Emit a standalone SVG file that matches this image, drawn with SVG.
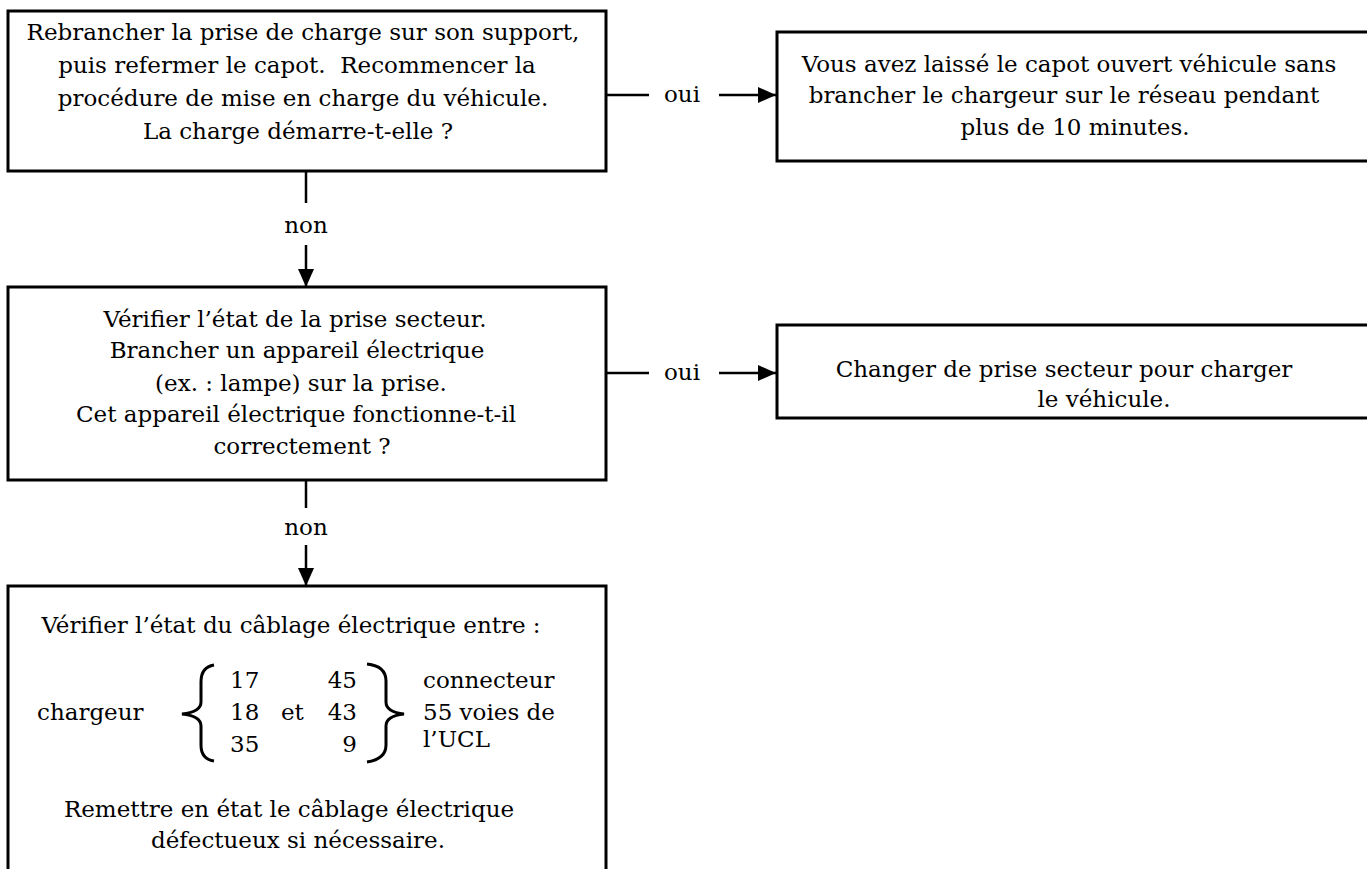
<svg xmlns="http://www.w3.org/2000/svg" width="1367" height="869" viewBox="0 0 1367 869">
<style>
.box{fill:#fff;stroke:#000;stroke-width:3}
.t{font-family:"DejaVu Serif","Liberation Serif",serif;font-size:23px;fill:#000}
.c{text-anchor:middle}
.ln{stroke:#000;stroke-width:2.5;fill:none}
.br{stroke:#000;stroke-width:3;fill:none}
</style>
<defs>
<marker id="ah" viewBox="0 0 18 16" refX="18" refY="8" markerWidth="18" markerHeight="16" markerUnits="userSpaceOnUse" orient="auto">
<path d="M0,0 L18,8 L0,16 Z" fill="#000"/>
</marker>
</defs>
<rect width="1367" height="869" fill="#fff"/>
<g id="connectors">
<line class="ln" x1="606" y1="95" x2="649" y2="95"/>
<text class="t c" x="682" y="102">oui</text>
<line class="ln" x1="719" y1="95" x2="776" y2="95" marker-end="url(#ah)"/>
<line class="ln" x1="306" y1="171" x2="306" y2="203"/>
<text class="t c" x="306" y="233">non</text>
<line class="ln" x1="306" y1="245" x2="306" y2="287" marker-end="url(#ah)"/>
<line class="ln" x1="606" y1="373" x2="649" y2="373"/>
<text class="t c" x="682" y="380">oui</text>
<line class="ln" x1="719" y1="373" x2="776" y2="373" marker-end="url(#ah)"/>
<line class="ln" x1="306" y1="480" x2="306" y2="508"/>
<text class="t c" x="306" y="535">non</text>
<line class="ln" x1="306" y1="545" x2="306" y2="586" marker-end="url(#ah)"/>
</g>
<g id="node1">
<rect class="box" x="8" y="11" width="598" height="160"/>
<text class="t c" x="303" y="40">Rebrancher la prise de charge sur son support,</text>
<text class="t c" x="297" y="73" xml:space="preserve">puis refermer le capot.  Recommencer la</text>
<text class="t c" x="303" y="106">procédure de mise en charge du véhicule.</text>
<text class="t c" x="298" y="139">La charge démarre-t-elle ?</text>
</g>
<g id="node2">
<rect class="box" x="777" y="32" width="600" height="129"/>
<text class="t c" x="1069" y="72">Vous avez laissé le capot ouvert véhicule sans</text>
<text class="t c" x="1064" y="103">brancher le chargeur sur le réseau pendant</text>
<text class="t c" x="1075" y="135">plus de 10 minutes.</text>
</g>
<g id="node3">
<rect class="box" x="8" y="287" width="598" height="193"/>
<text class="t c" x="295" y="327">Vérifier l’état de la prise secteur.</text>
<text class="t c" x="297" y="358">Brancher un appareil électrique</text>
<text class="t c" x="301" y="391">(ex. : lampe) sur la prise.</text>
<text class="t c" x="296" y="422">Cet appareil électrique fonctionne-t-il</text>
<text class="t c" x="302" y="454">correctement ?</text>
</g>
<g id="node4">
<rect class="box" x="777" y="325" width="600" height="93"/>
<text class="t c" x="1064" y="377">Changer de prise secteur pour charger</text>
<text class="t c" x="1104" y="407">le véhicule.</text>
</g>
<g id="node5">
<rect class="box" x="8" y="586" width="598" height="300"/>
<text class="t c" x="291" y="633">Vérifier l’état du câblage électrique entre :</text>
<text class="t" x="37" y="720">chargeur</text>
<path class="br" d="M214,665 Q201,667 201,682 L201,702 Q201,712 182,714 Q201,716 201,726 L201,745 Q201,759 214,761"/>
<text class="t" x="230" y="688">17</text>
<text class="t" x="230" y="720">18</text>
<text class="t" x="230" y="752">35</text>
<text class="t" x="281" y="720">et</text>
<text class="t" x="357" y="688" text-anchor="end">45</text>
<text class="t" x="357" y="720" text-anchor="end">43</text>
<text class="t" x="357" y="752" text-anchor="end">9</text>
<path class="br" d="M367,664 Q386,666 386,681 L386,702 Q386,712 404,714 Q386,716 386,726 L386,745 Q386,759 367,762"/>
<text class="t" x="423" y="688">connecteur</text>
<text class="t" x="423" y="720">55 voies de</text>
<text class="t" x="423" y="747">l’UCL</text>
<text class="t c" x="289" y="817">Remettre en état le câblage électrique</text>
<text class="t c" x="298" y="848">défectueux si nécessaire.</text>
</g>
</svg>
